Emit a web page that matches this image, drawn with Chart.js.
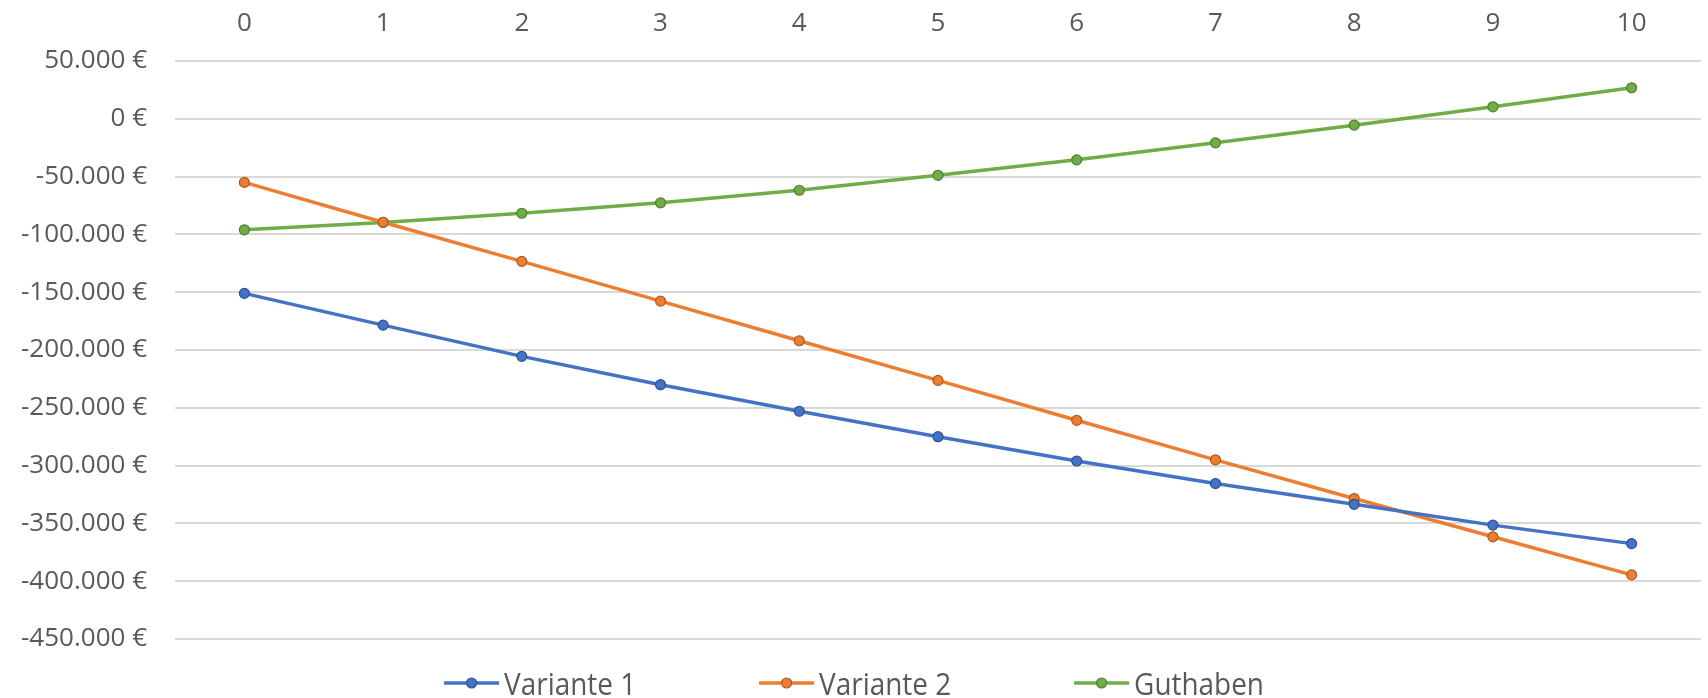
<!DOCTYPE html>
<html lang="de">
<head>
<meta charset="utf-8">
<title>Variante 1, Variante 2 und Guthaben</title>
<script src="https://cdn.jsdelivr.net/npm/chart.js@4/dist/chart.umd.min.js"></script>
<style>
  html, body { margin: 0; padding: 0; background: #ffffff; }
  #chart { display: block; }
</style>
</head>
<body>
<canvas id="chart" width="1708" height="698"></canvas>
<script>
// Jahre auf der Kategorienachse
const years = ['0', '1', '2', '3', '4', '5', '6', '7', '8', '9', '10'];

// Werte je Jahr in Euro
const variante1 = [-151000, -178500, -205500, -230000, -253000, -275000, -296000, -315500, -333500, -351500, -367500];
const variante2 = [-55000, -89500, -123300, -157700, -192000, -226300, -260800, -295000, -328500, -361600, -394500];
const guthaben  = [-96000, -89600, -81700, -72700, -61800, -48900, -35500, -20800, -5500, 10400, 26800];

const seriesNames = ['Variante 1', 'Variante 2', 'Guthaben'];

// Wertachse
const yMin = -450000;
const yMax = 50000;
const yStep = 50000;

const textColor = '#595959';
const fontFamily = '"Open Sans", "Noto Sans", sans-serif';

// Tausenderpunkt und Eurozeichen
function euro(v) {
  const digits = Math.abs(v).toString().replace(/\B(?=(\d{3})+(?!\d))/g, '.');
  return (v < 0 ? '-' : '') + digits + ' €';
}

function series(label, values, color, edge) {
  return {
    label: label,
    data: values,
    borderColor: color,
    backgroundColor: color,
    borderWidth: 3.5,
    pointRadius: 5,
    pointBorderWidth: 1.2,
    pointBackgroundColor: color,
    pointBorderColor: edge,
    tension: 0,
    fill: false
  };
}

// Legende unten: Linie mit Markierung, dann Beschriftung
const lineLegend = {
  id: 'lineLegend',
  afterDraw(chart) {
    const ctx = chart.ctx;
    const lineLen = 55, gapText = 5, gapItem = 123, squeeze = 0.9;
    const yLine = 683, yText = 695;
    ctx.save();
    ctx.font = '31px ' + fontFamily;
    const items = chart.data.datasets.map(ds => ({
      ds: ds,
      w: lineLen + gapText + ctx.measureText(ds.label).width * squeeze
    }));
    const total = items.reduce((s, it) => s + it.w, 0) + gapItem * (items.length - 1);
    let x = (chart.width - total) / 2;
    items.forEach(it => {
      const ds = it.ds;
      ctx.strokeStyle = ds.borderColor;
      ctx.lineWidth = 3.5;
      ctx.beginPath();
      ctx.moveTo(x, yLine);
      ctx.lineTo(x + lineLen, yLine);
      ctx.stroke();
      ctx.beginPath();
      ctx.arc(x + lineLen / 2, yLine, 5, 0, Math.PI * 2);
      ctx.fillStyle = ds.pointBackgroundColor;
      ctx.fill();
      ctx.lineWidth = 1.2;
      ctx.strokeStyle = ds.pointBorderColor;
      ctx.stroke();
      ctx.save();
      ctx.translate(x + lineLen + gapText, yText);
      ctx.scale(squeeze, 1);
      ctx.fillStyle = textColor;
      ctx.textBaseline = 'alphabetic';
      ctx.textAlign = 'left';
      ctx.fillText(ds.label, 0, 0);
      ctx.restore();
      x += it.w + gapItem;
    });
    ctx.restore();
  }
};

new Chart(document.getElementById('chart'), {
  type: 'line',
  data: {
    labels: years,
    datasets: [
      series(seriesNames[0], variante1, '#4472C4', '#2F528F'),
      series(seriesNames[1], variante2, '#ED7D31', '#AE5A21'),
      series(seriesNames[2], guthaben, '#70AD47', '#507E32')
    ]
  },
  options: {
    responsive: false,
    animation: false,
    layout: { padding: { left: 0, right: 7, top: 0, bottom: 59 } },
    plugins: {
      legend: { display: false },
      tooltip: { enabled: false }
    },
    scales: {
      x: {
        position: 'top',
        offset: true,
        grid: { display: false, drawTicks: false },
        border: { display: false },
        ticks: {
          color: textColor,
          font: { family: fontFamily, size: 26 },
          padding: 22,
          maxRotation: 0
        },
        afterFit(scale) { scale.height = 61; }
      },
      y: {
        min: yMin,
        max: yMax,
        grid: { color: '#d9d9d9', lineWidth: 2, drawTicks: false },
        border: { display: false },
        ticks: {
          stepSize: yStep,
          color: textColor,
          font: { family: fontFamily, size: 26 },
          padding: 28,
          callback: (v) => euro(v)
        },
        afterFit(scale) { scale.width = 175; }
      }
    }
  },
  plugins: [lineLegend]
});
</script>
</body>
</html>
